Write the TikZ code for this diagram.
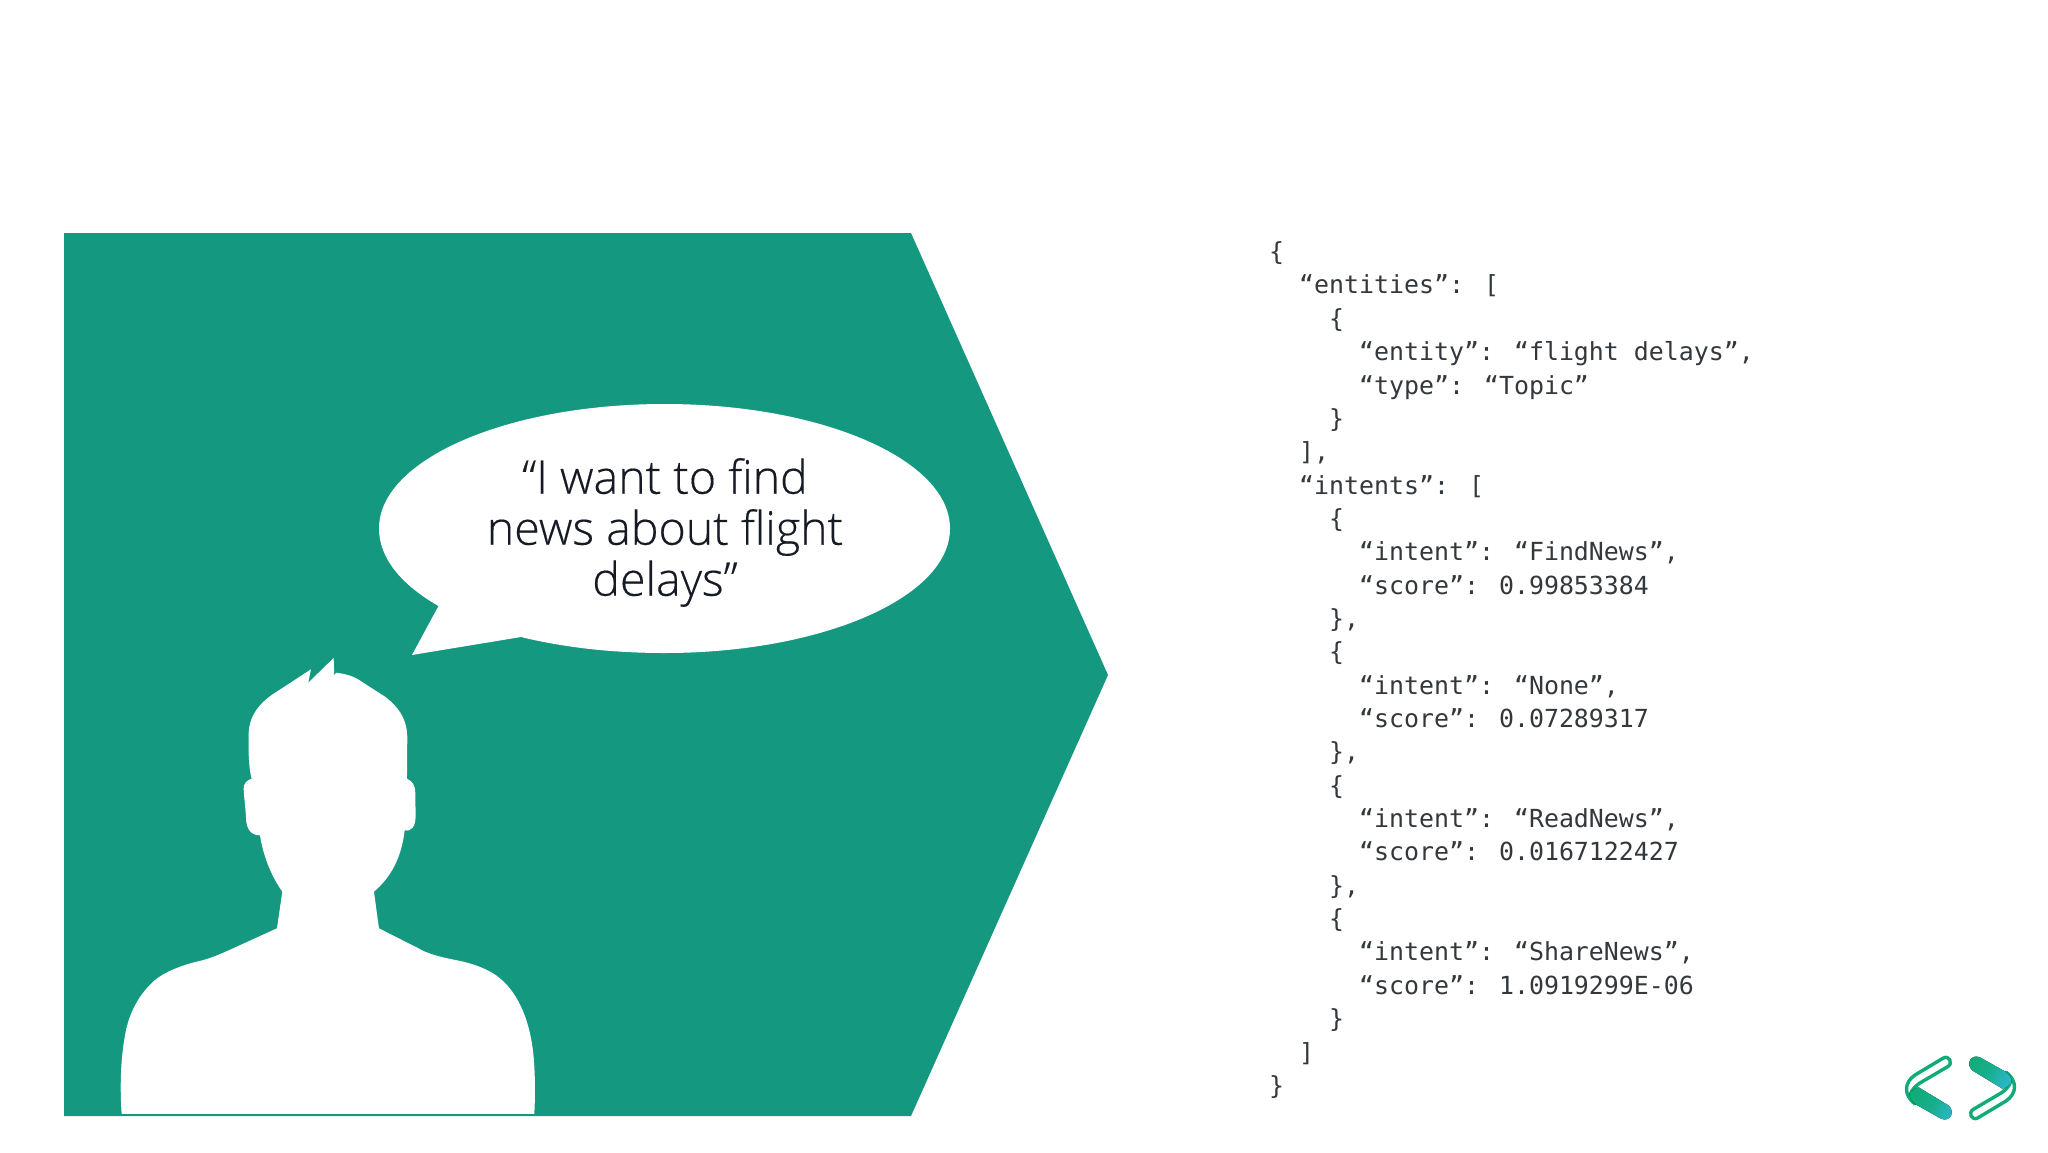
\documentclass[tikz,border=0pt]{standalone}
\usepackage{fontspec}
\setmainfont{Open Sans}[UprightFont=* Light,UprightFeatures={FakeBold=0.35}]
\newfontfamily\jsonfont{DejaVu Sans Mono}
\definecolor{panel}{HTML}{149880}
\definecolor{logogreen}{HTML}{10AC78}
\definecolor{logoblue}{HTML}{2CB8D0}
\definecolor{inktext}{HTML}{161A24}
\definecolor{codetext}{HTML}{33383C}
\newcommand{\logohalf}{%
  \draw[logogreen,line width=3.4pt,line join=round,line cap=round]
    (250,84) -- (165,135) .. controls (132,157) and (130,195) .. (165,222)
    (250,84) .. controls (268,75) and (280,100) .. (263,110) -- (178,160) .. controls (165,170) and (156,178) .. (150,195);
  \fill[left color=logogreen,right color=logoblue!90!logogreen,middle color=logogreen!78!logoblue,shading angle=60]
    (176,172) -- (265,226) .. controls (288,245) and (270,278) .. (243,266) -- (165,222) .. controls (150,210) and (146,195) .. (150,188) .. controls (156,180) and (165,175) .. (176,172) -- cycle;
}
\tikzset{
  x=1pt,y=-1pt,
  quote/.style={align=center,font=\fontsize{46.5}{51}\selectfont,text=inktext,inner sep=0pt},
  json/.style={align=left,font=\jsonfont\fontsize{24.9}{33.35}\selectfont,text=codetext,inner sep=0pt,anchor=north west}
}
\begin{document}
\begin{tikzpicture}
\useasboundingbox (0,0) rectangle (2048,1152);
\fill[white] (0,0) rectangle (2048,1152);
% pentagon panel
\fill[panel] (64,233) -- (911,233) -- (1108,675) -- (911,1116) -- (64,1116) -- cycle;
% speech bubble
\fill[white] (438.5,606) .. controls (400,584) and (379,557) .. (379,528.5)
  .. controls (379,459.7) and (506.8,404) .. (664.5,404)
  .. controls (822.2,404) and (950,459.7) .. (950,528.5)
  .. controls (950,597.3) and (822.2,653) .. (664.5,653)
  .. controls (610,653) and (562,647) .. (521,637) -- (412,655) -- cycle;
\node[quote] (speech) at (665,532.5) {“I want to find\\news about flight\\delays”};
% person
\begin{scope}[shift={(100,640)},x=.3333pt,y=-.3333pt]
\fill[white] (65,1422) .. controls (60,1350) and (60,1260) .. (78,1170)
  .. controls (92,1110) and (120,1060) .. (165,1020)
  .. controls (200,992) and (250,975) .. (290,965)
  .. controls (325,958) and (360,943) .. (395,927)
  -- (531,865)
  -- (547,755)
  .. controls (515,710) and (490,650) .. (480,586)
  .. controls (455,586) and (438,570) .. (438,530)
  .. controls (436,500) and (432,470) .. (431,445)
  .. controls (431,430) and (442,420) .. (455,416)
  .. controls (445,380) and (445,320) .. (446,280)
  .. controls (448,225) and (480,190) .. (515,165)
  -- (633,88) -- (625,128) -- (701,54) -- (703,108) -- (708,98)
  .. controls (740,102) and (765,110) .. (785,125)
  -- (855,170)
  .. controls (895,200) and (920,235) .. (922,290)
  -- (921,416)
  .. controls (938,425) and (946,435) .. (946,460)
  -- (947,530)
  .. controls (946,560) and (935,575) .. (914,571)
  .. controls (905,650) and (875,710) .. (822,755)
  -- (837,865)
  -- (975,935)
  .. controls (1015,952) and (1060,958) .. (1090,965)
  .. controls (1130,975) and (1170,990) .. (1200,1015)
  .. controls (1260,1065) and (1290,1150) .. (1300,1240)
  .. controls (1306,1300) and (1306,1370) .. (1303,1422)
  -- cycle;
\end{scope}
% json
\node[json] (code) at (1269,241.5) {%
\{\\
~~“entities”: [\\
~~~~\{\\
~~~~~~“entity”: “flight delays”,\\
~~~~~~“type”: “Topic”\\
~~~~\}\\
~~],\\
~~“intents”: [\\
~~~~\{\\
~~~~~~“intent”: “FindNews”,\\
~~~~~~“score”: 0.99853384\\
~~~~\},\\
~~~~\{\\
~~~~~~“intent”: “None”,\\
~~~~~~“score”: 0.07289317\\
~~~~\},\\
~~~~\{\\
~~~~~~“intent”: “ReadNews”,\\
~~~~~~“score”: 0.0167122427\\
~~~~\},\\
~~~~\{\\
~~~~~~“intent”: “ShareNews”,\\
~~~~~~“score”: 1.0919299E-06\\
~~~~\}\\
~~]\\
\}};
% logo
\begin{scope}[shift={(1860,1030)},x=.3333pt,y=-.3333pt]
\logohalf
\end{scope}
\begin{scope}[shift={(1860,1030)},x=.3333pt,y=-.3333pt,shift={(603,348)},rotate=180]
\logohalf
\end{scope}
\end{tikzpicture}
\end{document}
